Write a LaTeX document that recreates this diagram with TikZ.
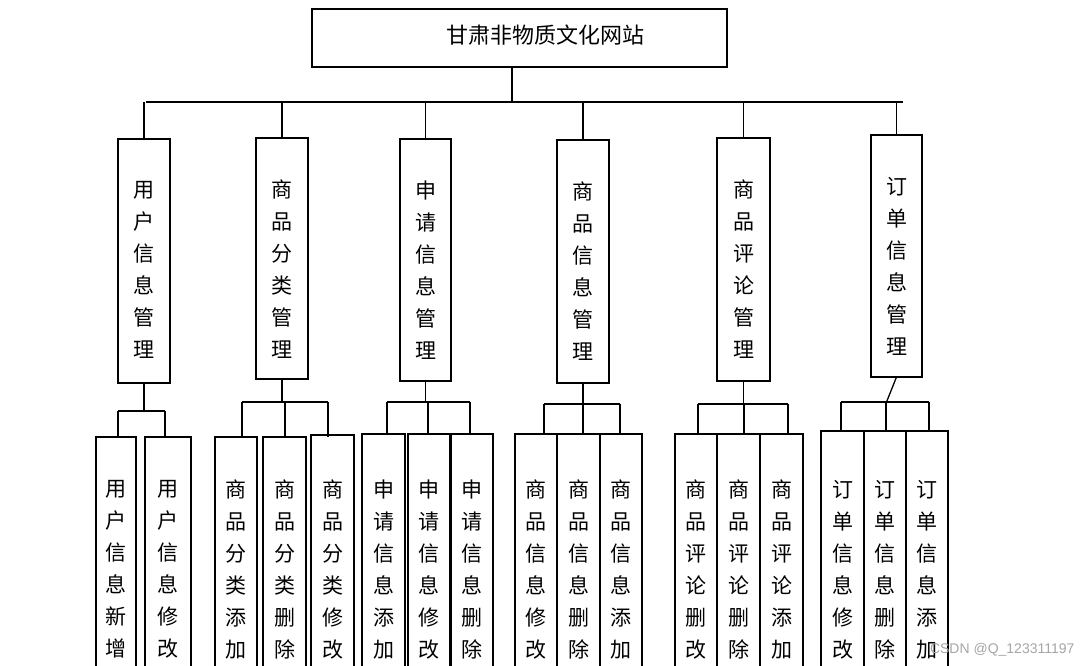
\documentclass[tikz,border=0pt]{standalone}
\usepackage{fontspec}
\newfontfamily\cjk{Noto Sans CJK SC}
\begin{document}
\begin{tikzpicture}[x=1pt,y=-1pt,
  box/.style={draw,line width=1.3pt},
  ln/.style={line width=1.3pt},
  vt/.style={anchor=north,inner sep=0pt,align=center,font=\cjk\fontsize{21}{32}\selectfont}]
\useasboundingbox (0,0) rectangle (1089,666);
\clip (0,0) rectangle (1089,666);
\fill[white] (0,0) rectangle (1089,666);
% top
\draw[box] (312,9) rectangle (727,67);
\node[font=\cjk\fontsize{22}{26}\selectfont] (top) at (545,35) {甘肃非物质文化网站};
\coordinate (t0) at (512,67);
\draw[ln] (t0) -- (512,102);
\draw[ln] (146,102) -- (903,102);
% level 2
\foreach \n/\xa/\xb/\ya/\yb/\txt in {
 a/118/170/139/383/{用\\户\\信\\息\\管\\理},
 b/256/308/138/379/{商\\品\\分\\类\\管\\理},
 c/400/451/139/381/{申\\请\\信\\息\\管\\理},
 d/557/609/140/383/{商\\品\\信\\息\\管\\理},
 e/717/770/138/381/{商\\品\\评\\论\\管\\理},
 f/871/922/135/377/{订\\单\\信\\息\\管\\理}}{
  \draw[box] (\xa,\ya) rectangle (\xb,\yb);
  \coordinate (\n-top) at ({(\xa+\xb)/2},\ya);
  \coordinate (\n-bot) at ({(\xa+\xb)/2},\yb);
  \node[vt] (\n-t) at ({(\xa+\xb)/2},{\ya+42}) {\txt};
  \draw[ln] (\n-top) -- ({(\xa+\xb)/2},102);
}
% level 3 connectors
\draw[ln] (a-bot) -- (144,411); \draw[ln] (118,411) -- (165,411);
\draw[ln] (118,411) -- (118,437); \draw[ln] (165,411) -- (165,437);
\draw[ln] (b-bot) -- (282,402); \draw[ln] (242,402) -- (328,402);
\foreach \x in {242,285,328} \draw[ln] (\x,402) -- (\x,437);
\draw[ln] (c-bot) -- (425.5,402); \draw[ln] (387,402) -- (470,402);
\foreach \x in {387,428,470} \draw[ln] (\x,402) -- (\x,434);
\draw[ln] (d-bot) -- (583,404); \draw[ln] (544,404) -- (620,404);
\foreach \x in {544,583,620} \draw[ln] (\x,404) -- (\x,434);
\draw[ln] (e-bot) -- (743.5,404); \draw[ln] (698,404) -- (788,404);
\foreach \x in {698,744,788} \draw[ln] (\x,404) -- (\x,434);
\draw[ln] (f-bot) -- (886.5,402); \draw[ln] (841,402) -- (929,402);
\foreach \x in {841,886,929} \draw[ln] (\x,402) -- (\x,431);
% level 3 boxes
\foreach \n/\xa/\xb/\ya/\txt in {
 a1/96/136/437/{用\\户\\信\\息\\新\\增},
 a2/145/191/437/{用\\户\\信\\息\\修\\改},
 b1/215/257/437/{商\\品\\分\\类\\添\\加},
 b2/263/306/437/{商\\品\\分\\类\\删\\除},
 b3/311/354/435/{商\\品\\分\\类\\修\\改},
 c1/362/405/434/{申\\请\\信\\息\\添\\加},
 c2/408/450/434/{申\\请\\信\\息\\修\\改},
 c3/451/493/434/{申\\请\\信\\息\\删\\除},
 d1/515/557/434/{商\\品\\信\\息\\修\\改},
 d2/557/600/434/{商\\品\\信\\息\\删\\除},
 d3/600/642/434/{商\\品\\信\\息\\添\\加},
 e1/675/717/434/{商\\品\\评\\论\\删\\改},
 e2/717/760/434/{商\\品\\评\\论\\删\\除},
 e3/760/803/434/{商\\品\\评\\论\\添\\加},
 f1/821/864/431/{订\\单\\信\\息\\修\\改},
 f2/864/906/431/{订\\单\\信\\息\\删\\除},
 f3/906/948/431/{订\\单\\信\\息\\添\\加}}{
  \draw[box] (\xa,\ya) rectangle (\xb,700);
  \node[vt] (\n) at ({(\xa+\xb)/2},480) {\txt};
}
\node[anchor=south east,text=gray!70,font=\fontspec{Liberation Sans}\fontsize{14}{16}\selectfont] (wm) at (1078,660) {CSDN @Q\_123311197};
\end{tikzpicture}
\end{document}
